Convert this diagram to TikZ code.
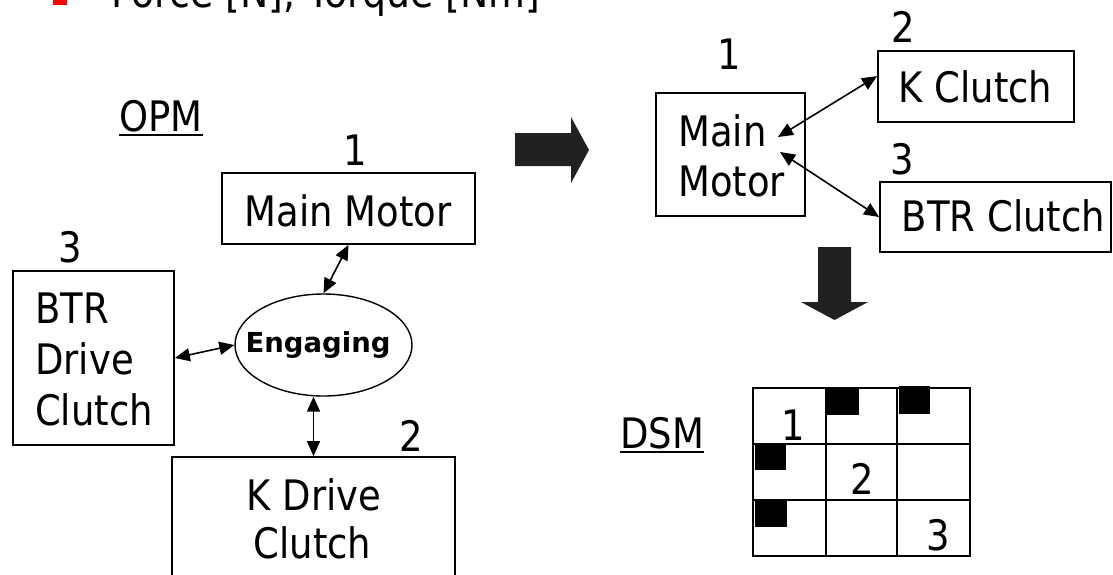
\documentclass[tikz,border=0pt]{standalone}
\usepackage{fontspec}
\setmainfont{DejaVu Sans}[FakeStretch=0.88]
\newfontfamily\engfont{DejaVu Sans}
\usetikzlibrary{arrows.meta,shapes.geometric}

\tikzset{
  box/.style={draw, rectangle, line width=1.8pt, inner sep=0pt},
  lbl/.style={inner sep=0pt, font=\fontsize{42}{51}\selectfont},
  conn/.style={line width=1.6pt,
    {Triangle[length=15pt,width=13pt]}-{Triangle[length=15pt,width=13pt]}},
  blockarrow/.style={fill=black!87, draw=none},
  hit/.style={fill=black, draw=none},
  uline/.style={line width=2pt}
}

\begin{document}
\begin{tikzpicture}[x=1pt,y=-1pt]
\clip (0,0) rectangle (1113,574);
\fill[white] (0,0) rectangle (1113,574);

% heading bullet line
\fill[red] (53,-9) rectangle (67,5);
\node[lbl, anchor=base west, font=\fontsize{43}{51}\selectfont] (head) at (111,7.5) {Force [N], Torque [Nm]};

% ---------------- OPM ----------------
\node[lbl, anchor=base west] (opm) at (119,131) {OPM};
\draw[uline] ([yshift=-4pt]opm.base west) -- ([yshift=-4pt]opm.base east);

\node[lbl, anchor=base] (n1) at (355.5,165) {1};
\node[box, minimum width=253pt, minimum height=71pt] (mm) at (348.5,208.5) {};
\node[lbl, anchor=base] (mmt) at (348,226) {Main Motor};

\node[lbl, anchor=base] (n3) at (70.5,262) {3};
\node[box, minimum width=161pt, minimum height=174pt] (btr) at (93.5,358) {};
\node[lbl, anchor=base west] (btra) at (35,323) {BTR};
\node[lbl, anchor=base west] (btrb) at (35,374) {Drive};
\node[lbl, anchor=base west] (btrc) at (35,425) {Clutch};

\node[draw, ellipse, line width=1.4pt, minimum width=177pt, minimum height=102pt, inner sep=0pt] (eng) at (323.5,345) {};
\node[inner sep=0pt, anchor=base, font=\engfont\bfseries\fontsize{27.5}{30}\selectfont] (engt) at (318,352) {Engaging};

\node[lbl, anchor=base] (n2) at (411.5,451) {2};
\node[box, minimum width=283pt, minimum height=143pt] (kd) at (313.5,528.5) {};
\node[lbl, anchor=base] (kda) at (314,510) {K Drive};
\node[lbl, anchor=base] (kdb) at (312.5,558) {Clutch};

\draw[conn] (mm.south) -- (eng.north);
\draw[conn] (btr.east) -- (eng.west);
\draw[conn] (eng.south -| kd.north) -- (kd.north);

% transition arrow
\fill[blockarrow] (515,133) -- (571,133) -- (571,117) -- (589,150) -- (571,183) -- (571,166) -- (515,166) -- cycle;

% ---------------- reduced graph ----------------
\node[lbl, anchor=base] (r1) at (729.5,69) {1};
\node[box, minimum width=149pt, minimum height=123pt] (mm2) at (730.5,154.5) {};
\node[lbl, anchor=base west] (mm2a) at (678,146) {Main};
\node[lbl, anchor=base west] (mm2b) at (678,196) {Motor};

\node[lbl, anchor=base] (r2) at (903,42) {2};
\node[box, minimum width=196pt, minimum height=71pt] (kc) at (976,86.5) {};
\node[lbl, anchor=base] (kct) at (975.5,102) {K Clutch};

\node[lbl, anchor=base] (r3) at (902.5,174) {3};
\node[box, minimum width=231pt, minimum height=70pt] (bc) at (995.5,217) {};
\node[lbl, anchor=base] (bct) at (1003.5,231) {BTR Clutch};

\coordinate (in1) at (778,137);
\coordinate (in2) at (780,152);
\draw[conn] (in1) -- (kc.174);
\draw[conn] (in2) -- (bc.west);

% transition arrow down
\fill[blockarrow] (818,247) -- (851,247) -- (851,302) -- (868,302) -- (834.5,320) -- (801,302) -- (818,302) -- cycle;

% ---------------- DSM ----------------
\node[lbl, anchor=base west] (dsm) at (620,448) {DSM};
\draw[uline] ([yshift=-4pt]dsm.base west) -- ([yshift=-4pt]dsm.base east);

\draw[line width=1.8pt] (753,388) rectangle (970,556);
\draw[line width=1.8pt] (826,388) -- (826,556) (897,388) -- (897,556)
  (753,444) -- (970,444) (753,500) -- (970,500);

\fill[hit] (826,387) rectangle (859,415);
\fill[hit] (899,386) rectangle (930,414);
\fill[hit] (755,444) rectangle (786,470);
\fill[hit] (755,500) rectangle (787,527);

\node[lbl, anchor=base] (d1) at (793,440) {1};
\node[lbl, anchor=base] (d2) at (862.5,494) {2};
\node[lbl, anchor=base] (d3) at (938.5,550) {3};
\end{tikzpicture}
\end{document}
